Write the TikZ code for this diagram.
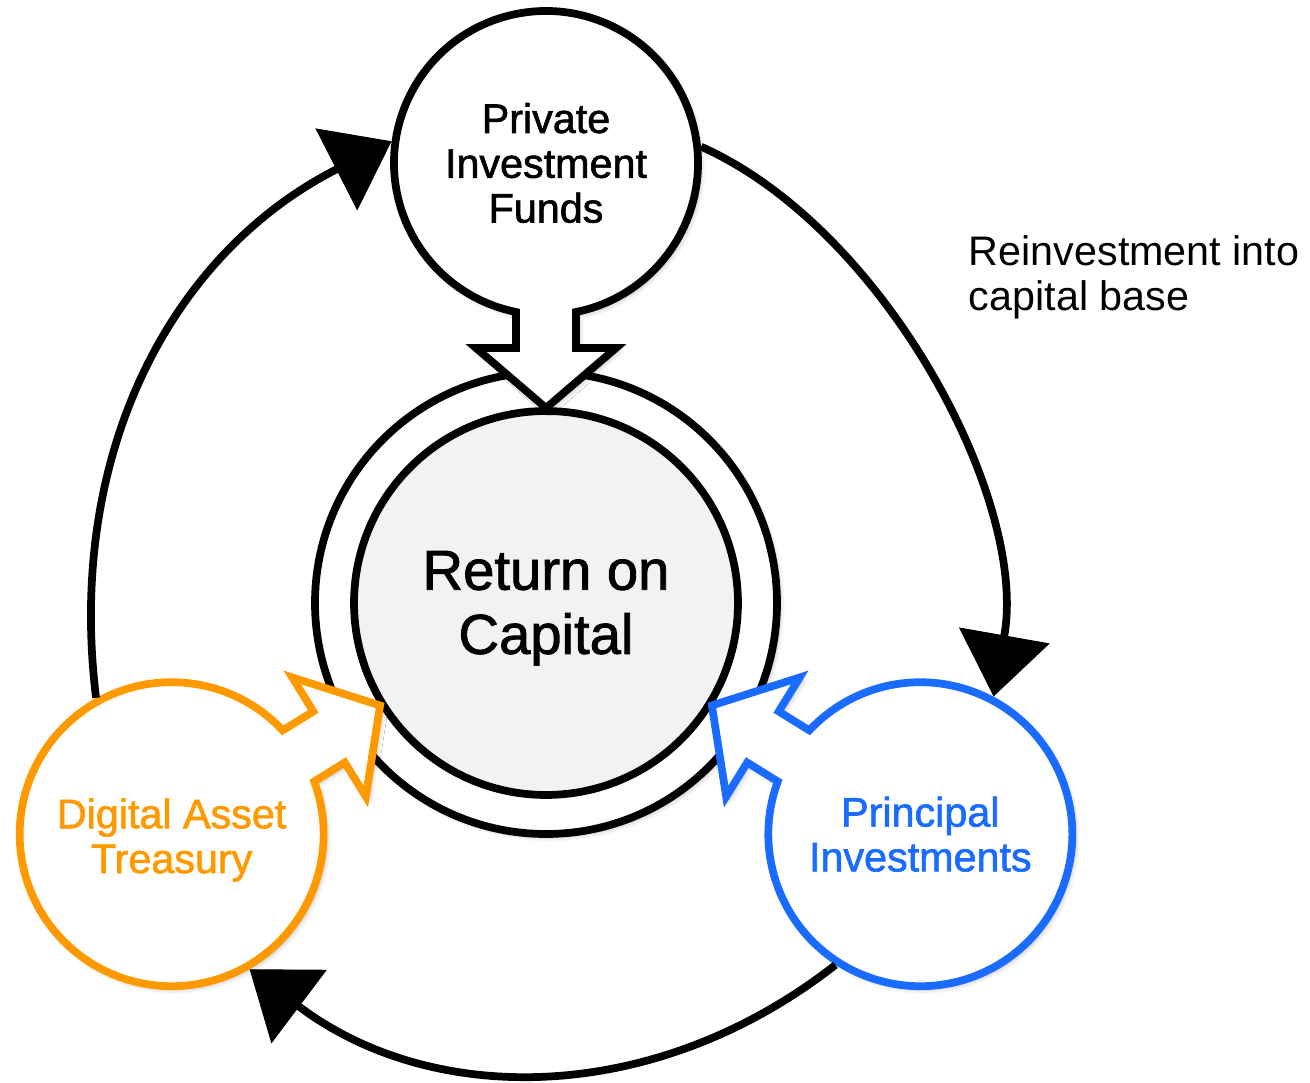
\documentclass[tikz,border=0pt]{standalone}
\usepackage{fontspec}
\setmainfont{Liberation Sans}
\newfontfamily\medfont{Liberation Sans}[FakeBold=1.5]
\usetikzlibrary{arrows.meta,shadows.blur}
\definecolor{datorange}{HTML}{FF9900}
\definecolor{piblue}{HTML}{1A6BFF}
\definecolor{rocgray}{HTML}{F2F2F2}

\begin{document}
\begin{tikzpicture}[x=0.02cm,y=0.02cm,line width=4.4pt]
\tikzstyle{bubble}=[fill=white,line join=miter,blur shadow={shadow xshift=0.06cm,shadow yshift=-0.06cm,shadow blur radius=0.1cm,shadow opacity=30}]
\tikzstyle{hub}=[circle,draw=none,minimum size=6.24cm,inner sep=0pt,outer sep=0pt,align=center,font=\medfont\fontsize{23.5pt}{25.5pt}\selectfont]
\tikzstyle{roundarr}=[-{Triangle[length=1.24cm,width=1.84cm,fill=black,line width=0.5pt]}]
\useasboundingbox (-546,-479) rectangle (764,603);
\draw[bubble] (0,0) circle[radius=231];
\node[circle,draw,fill=rocgray,minimum size=7.68cm,inner sep=0pt,align=center,font=\medfont\fontsize{32pt}{36.5pt}\selectfont] (roc) at (0,0) {\rule{0pt}{28pt}Return on\\Capital};
\draw[bubble,shift={(90:440)},rotate=270] (11.4:152) arc[start angle=11.4,end angle=348.6,radius=152] -- (185,-30) -- (185,-70) -- (245,0) -- (185,70) -- (185,30) -- cycle;
\draw[bubble,draw=piblue,shift={(-31.7:440)},rotate=148.3] (11.4:152) arc[start angle=11.4,end angle=348.6,radius=152] -- (185,-30) -- (185,-70) -- (245,0) -- (185,70) -- (185,30) -- cycle;
\draw[bubble,draw=datorange,shift={(211.7:440)},rotate=31.7] (11.4:152) arc[start angle=11.4,end angle=348.6,radius=152] -- (185,-30) -- (185,-70) -- (245,0) -- (185,70) -- (185,30) -- cycle;
\node[hub] (pif) at (90:440) {Private\\Investment\\Funds};
\node[hub,text=piblue] (pi) at (-31.7:440) {Principal\\Investments};
\node[hub,text=datorange] (dat) at (211.7:440) {\rule{0pt}{23.6pt}Digital Asset\\Treasury};
\node[anchor=north west,inner sep=0pt,align=left,font=\fontsize{23.5pt}{25.5pt}\selectfont] (note) at (419,371) {Reinvestment into\\capital base};
\draw[roundarr] (pif.6) to[out=-24,in=80,looseness=0.82] (pi.62);
\draw[roundarr] (pi.237) to[out=218,in=-37] (dat.300);
\draw[roundarr] (dat.119) to[out=97,in=207] (pif.172);
\end{tikzpicture}
\end{document}
